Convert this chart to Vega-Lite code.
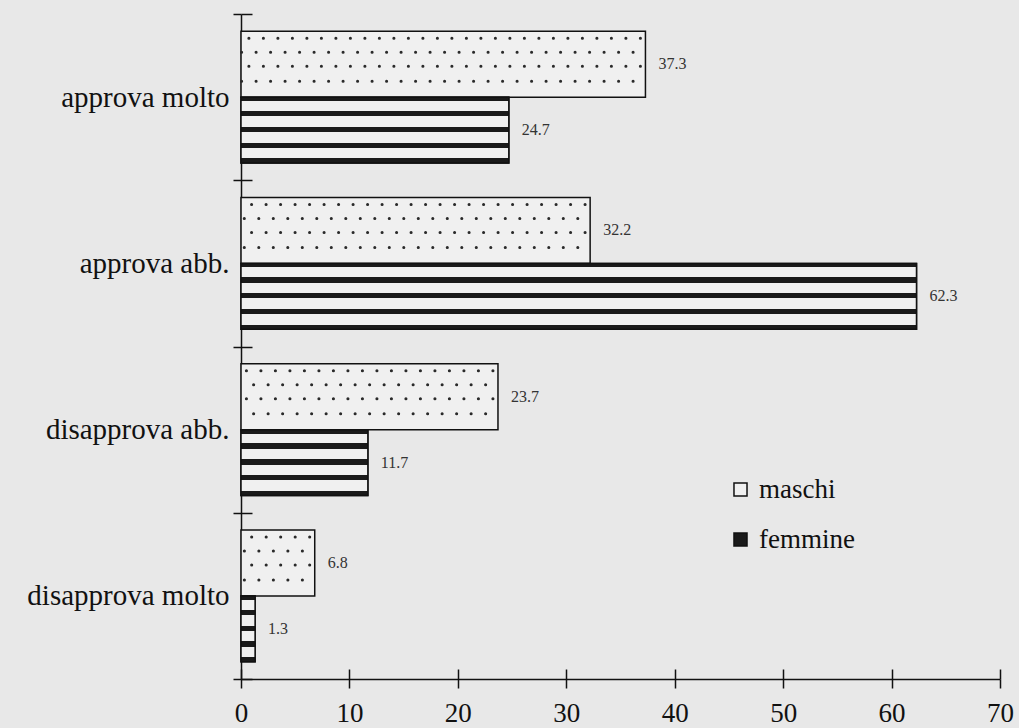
{
  "$schema": "https://vega.github.io/schema/vega-lite/v6.json",
  "width": 759,
  "height": 665,
  "autosize": {"type": "none"},
  "padding": {"left": 241, "top": 14, "right": 19, "bottom": 49},
  "background": "#e8e8e8",
  "config": {"view": {"stroke": null}, "font": "Liberation Serif"},
  "data": {
    "values": [
      {"risposta": "approva molto", "sesso": "maschi", "valore": 37.3},
      {"risposta": "approva molto", "sesso": "femmine", "valore": 24.7},
      {"risposta": "approva abb.", "sesso": "maschi", "valore": 32.2},
      {"risposta": "approva abb.", "sesso": "femmine", "valore": 62.3},
      {"risposta": "disapprova abb.", "sesso": "maschi", "valore": 23.7},
      {"risposta": "disapprova abb.", "sesso": "femmine", "valore": 11.7},
      {"risposta": "disapprova molto", "sesso": "maschi", "valore": 6.8},
      {"risposta": "disapprova molto", "sesso": "femmine", "valore": 1.3}
    ]
  },
  "resolve": {"axis": {"x": "independent", "y": "independent"}},
  "layer": [
    {
      "mark": {"type": "bar", "stroke": "#111111", "strokeWidth": 1.5},
      "encoding": {
        "y": {"field": "risposta", "type": "nominal", "title": null,
          "scale": {"domain": ["approva molto", "approva abb.", "disapprova abb.", "disapprova molto"], "paddingInner": 0, "paddingOuter": 0},
          "axis": {"orient": "left", "domain": true, "domainColor": "#111111", "domainWidth": 1.5, "ticks": true, "tickBand": "extent", "tickSize": 8, "tickColor": "#111111", "tickWidth": 1.5, "labelFontSize": 29, "labelColor": "#111111", "labelPadding": 4, "labelLimit": 0, "labelFont": "Liberation Serif", "title": null}},
        "yOffset": {"field": "sesso", "type": "nominal", "scale": {"domain": ["maschi", "femmine"], "paddingInner": 0, "paddingOuter": 0.26}},
        "x": {"field": "valore", "type": "quantitative", "title": null,
          "scale": {"domain": [0, 70], "nice": false},
          "axis": {"orient": "bottom", "values": [0, 10, 20, 30, 40, 50, 60, 70], "grid": false, "domain": true, "domainColor": "#111111", "domainWidth": 1.5, "tickSize": 9, "tickColor": "#111111", "tickWidth": 1.5, "labelFontSize": 27, "labelColor": "#111111", "labelPadding": 12, "labelFont": "Liberation Serif", "labelFlush": false, "labelOverlap": false, "title": null}},
        "fill": {"field": "sesso", "type": "nominal",
          "scale": {"domain": ["maschi", "femmine"], "range": ["#f0f0f0", "#1a1a1a"]},
          "legend": {"orient": "none", "legendX": 486, "legendY": 462, "title": null, "symbolType": "square", "symbolSize": 170, "symbolStrokeColor": "#111111", "symbolStrokeWidth": 1.5, "labelFontSize": 27, "labelColor": "#111111", "labelFont": "Liberation Serif", "labelOffset": 5, "rowPadding": 22}}
      }
    },
    {
      "transform": [{"filter": "datum.sesso === 'femmine'"}],
      "mark": {"type": "bar", "stroke": "#111111", "strokeWidth": 1.5,
        "fill": {"gradient": "linear", "x1": 0, "y1": 0, "x2": 0, "y2": 1, "stops": [
          {"offset": 0, "color": "#1a1a1a"}, {"offset": 0.06, "color": "#1a1a1a"},
          {"offset": 0.06, "color": "#f0f0f0"}, {"offset": 0.21, "color": "#f0f0f0"},
          {"offset": 0.21, "color": "#1a1a1a"}, {"offset": 0.29, "color": "#1a1a1a"},
          {"offset": 0.29, "color": "#f0f0f0"}, {"offset": 0.45, "color": "#f0f0f0"},
          {"offset": 0.45, "color": "#1a1a1a"}, {"offset": 0.53, "color": "#1a1a1a"},
          {"offset": 0.53, "color": "#f0f0f0"}, {"offset": 0.69, "color": "#f0f0f0"},
          {"offset": 0.69, "color": "#1a1a1a"}, {"offset": 0.77, "color": "#1a1a1a"},
          {"offset": 0.77, "color": "#f0f0f0"}, {"offset": 0.93, "color": "#f0f0f0"},
          {"offset": 0.93, "color": "#1a1a1a"}, {"offset": 1, "color": "#1a1a1a"}
        ]}},
      "encoding": {
        "y": {"field": "risposta", "type": "nominal", "title": null,
          "axis": {"orient": "left", "offset": -11, "domain": false, "labels": false, "ticks": true, "tickBand": "extent", "tickSize": 11, "tickColor": "#111111", "tickWidth": 1.5, "title": null}},
        "yOffset": {"field": "sesso", "type": "nominal"},
        "x": {"field": "valore", "type": "quantitative", "title": null,
          "axis": {"orient": "bottom", "offset": -10, "values": [0, 10, 20, 30, 40, 50, 60, 70], "grid": false, "domain": false, "labels": false, "tickSize": 10, "tickColor": "#111111", "tickWidth": 1.5, "title": null}}
      }
    },
    {
      "transform": [{"filter": "datum.sesso === 'maschi'"}],
      "mark": {"type": "rule", "color": "#2a2a2a", "strokeWidth": 3, "strokeCap": "round", "strokeDash": [0.1, 14.4], "strokeDashOffset": 9.5, "yOffset": -59},
      "encoding": {
        "y": {"field": "risposta", "type": "nominal", "axis": null},
        "x": {"field": "valore", "type": "quantitative", "axis": null},
        "x2": {"datum": 0}
      }
    },
    {
      "transform": [{"filter": "datum.sesso === 'maschi'"}],
      "mark": {"type": "rule", "color": "#2a2a2a", "strokeWidth": 3, "strokeCap": "round", "strokeDash": [0.1, 14.4], "strokeDashOffset": 2.2, "yOffset": -45},
      "encoding": {
        "y": {"field": "risposta", "type": "nominal", "axis": null},
        "x": {"field": "valore", "type": "quantitative", "axis": null},
        "x2": {"datum": 0}
      }
    },
    {
      "transform": [{"filter": "datum.sesso === 'maschi'"}],
      "mark": {"type": "rule", "color": "#2a2a2a", "strokeWidth": 3, "strokeCap": "round", "strokeDash": [0.1, 14.4], "strokeDashOffset": 9.5, "yOffset": -31},
      "encoding": {
        "y": {"field": "risposta", "type": "nominal", "axis": null},
        "x": {"field": "valore", "type": "quantitative", "axis": null},
        "x2": {"datum": 0}
      }
    },
    {
      "transform": [{"filter": "datum.sesso === 'maschi'"}],
      "mark": {"type": "rule", "color": "#2a2a2a", "strokeWidth": 3, "strokeCap": "round", "strokeDash": [0.1, 14.4], "strokeDashOffset": 2.2, "yOffset": -16},
      "encoding": {
        "y": {"field": "risposta", "type": "nominal", "axis": null},
        "x": {"field": "valore", "type": "quantitative", "axis": null},
        "x2": {"datum": 0}
      }
    },
    {
      "mark": {"type": "text", "align": "left", "baseline": "middle", "dx": 13, "fontSize": 16, "font": "Liberation Serif", "color": "#333333"},
      "encoding": {
        "y": {"field": "risposta", "type": "nominal", "axis": null},
        "yOffset": {"field": "sesso", "type": "nominal"},
        "x": {"field": "valore", "type": "quantitative", "axis": null},
        "text": {"field": "valore", "type": "quantitative", "format": ".1f"}
      }
    }
  ]
}
